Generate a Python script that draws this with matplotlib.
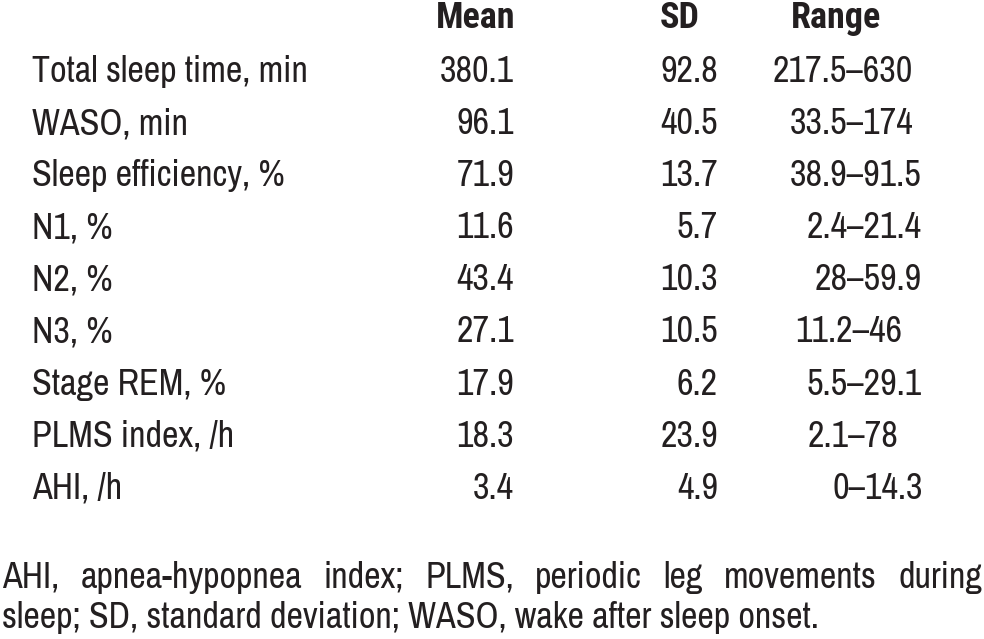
import matplotlib
matplotlib.use("Agg")
import matplotlib.pyplot as plt

# table contents
headers = ["Mean", "SD", "Range"]
labels = ["Total sleep time, min", "WASO, min", "Sleep efficiency, %", "N1, %",
          "N2, %", "N3, %", "Stage REM, %", "PLMS index, /h", "AHI, /h"]
means = ["380.1", "96.1", "71.9", "11.6", "43.4", "27.1", "17.9", "18.3", "3.4"]
sds = ["92.8", "40.5", "13.7", "5.7", "10.3", "10.5", "6.2", "23.9", "4.9"]
ranges = ["217.5\u2013630", "33.5\u2013174", "38.9\u201391.5", "2.4\u201321.4",
          "28\u201359.9", "11.2\u201346", "5.5\u201329.1", "2.1\u201378", "0\u201314.3"]
note1 = "AHI, apnea-hypopnea index; PLMS, periodic leg movements during"
note2 = "sleep; SD, standard deviation; WASO, wake after sleep onset."

plt.rcParams['font.family'] = ['Archivo Narrow', 'Roboto Condensed', 'DejaVu Sans']
col = "#231f20"

fig = plt.figure(figsize=(9.84, 6.39), dpi=100)
ax = fig.add_axes([0, 0, 1, 1])
ax.set_xlim(0, 984)
ax.set_ylim(639, 0)
ax.axis("off")

# size the font so the first label is as wide as in the source
fig.canvas.draw()
r = fig.canvas.get_renderer()
probe = ax.text(0, 0, labels[0], fontsize=20)
fs = 20 * 276 / probe.get_window_extent(r).width
probe.remove()

# header row (Archivo Narrow has no bold face here)
hfam = ['Roboto Condensed', 'IBM Plex Sans Condensed', 'DejaVu Sans']
ax.text(515, 28, headers[0], fontsize=fs, fontweight="bold", family=hfam, ha="right", va="baseline", color=col)
ax.text(680, 28, headers[1], fontsize=fs, fontweight="bold", family=hfam, ha="center", va="baseline", color=col)
ax.text(836, 28, headers[2], fontsize=fs, fontweight="bold", family=hfam, ha="center", va="baseline", color=col)

# range column starts (the source aligns it loosely)
range_x = [773, 790, 790, 807, 815, 795, 807, 808, 833]

for i in range(len(labels)):
    y = 82 + i * 52.1
    ax.text(32, y, labels[i], fontsize=fs, ha="left", va="baseline", color=col)
    ax.text(514, y, means[i], fontsize=fs, ha="right", va="baseline", color=col)
    ax.text(718, y, sds[i], fontsize=fs, ha="right", va="baseline", color=col)
    ax.text(range_x[i], y, ranges[i], fontsize=fs, ha="left", va="baseline", color=col)

# footnote, first line justified across the full width
words = note1.split(" ")
tmp = [ax.text(0, 0, w, fontsize=fs, color=col) for w in words]
widths = [t.get_window_extent(r).width for t in tmp]
for t in tmp:
    t.remove()
gap = (982 - 2 - sum(widths)) / (len(words) - 1)
x = 2
for w, wd in zip(words, widths):
    ax.text(x, 588, w, fontsize=fs, ha="left", va="baseline", color=col)
    x += wd + gap
ax.text(2, 628, note2, fontsize=fs, ha="left", va="baseline", color=col)

fig.savefig("out.png", dpi=100)
